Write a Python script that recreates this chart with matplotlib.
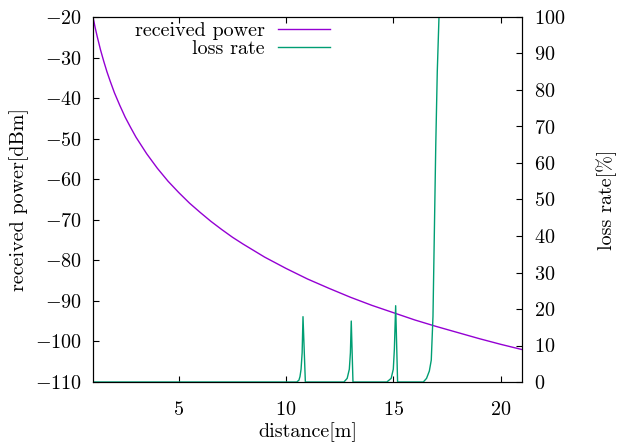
import matplotlib
matplotlib.use("Agg")
import matplotlib.pyplot as plt

plt.rcParams['font.family'] = ['cmr10', 'DejaVu Serif']
plt.rcParams['mathtext.fontset'] = 'cm'
plt.rcParams['axes.formatter.use_mathtext'] = True
plt.rcParams['font.size'] = 14.5

# received power curve
dist_power = [1, 1.1, 1.2, 1.35, 1.5, 1.65, 1.8, 2, 2.25, 2.5, 2.75, 3, 3.5,
              4, 4.5, 5, 5.5, 6, 6.5, 7, 7.5, 8, 8.5, 9, 9.5, 10,
              11, 12, 13, 14, 15, 16, 17, 18, 19, 20, 21]
power = [-20, -22.6, -24.9, -28.1, -30.9, -33.5, -35.8, -38.7, -41.8, -44.7,
         -47.2, -49.6, -53.7, -57.3, -60.5, -63.3, -65.9, -68.2, -70.4, -72.4,
         -74.3, -76.0, -77.6, -79.2, -80.6, -82.0, -84.6, -86.9, -89.1, -91.1,
         -92.9, -94.7, -96.3, -97.8, -99.3, -100.7, -102.0]

# loss rate (spikes and final rise)
dist_loss = [1, 10.5, 10.6, 10.65, 10.7, 10.75, 10.79, 10.9,
             12.7, 12.85, 12.95, 13.0, 13.04, 13.12,
             14.7, 14.9, 15.0, 15.05, 15.11, 15.2,
             16.4, 16.55, 16.68, 16.77, 16.85, 16.9, 16.98, 17.05, 17.13, 21]
loss = [0, 0, 0.5, 1.5, 3.5, 8, 17.9, 0,
        0, 1.0, 3.5, 8, 16.7, 0,
        0, 1.0, 3.5, 9, 20.9, 0,
        0, 1, 3, 6, 18, 36, 65, 85, 100, 100]

fig = plt.figure(figsize=(6.2, 4.44), dpi=100)
ax = fig.add_axes([93 / 620, 1 - 382 / 444, 429 / 620, 365 / 444])
ax2 = ax.twinx()

l1, = ax.plot(dist_power, power, color='#9400d3', lw=1.0, label='received power')
l2, = ax2.plot(dist_loss, loss, color='#009e73', lw=1.0, label='loss rate')

ax.set_xlim(1, 21)
ax.set_ylim(-110, -20)
ax2.set_ylim(0, 100)
ax.set_xticks([5, 10, 15, 20])
ax.set_yticks(range(-110, -19, 10))
ax2.set_yticks(range(0, 101, 10))

ax.tick_params(direction='in', length=4, width=0.8, top=True, right=False)
ax2.tick_params(direction='in', length=4, width=0.8)
ax.tick_params(axis='x', pad=14)
ax.tick_params(axis='y', pad=8)
ax2.tick_params(axis='y', pad=9)

ax.set_xlabel('distance[m]', labelpad=2)
ax.set_ylabel('received power[dBm]', labelpad=4)
ax2.set_ylabel('loss rate[%]', labelpad=22)

ax.legend(handles=[l1, l2], loc='upper right', bbox_to_anchor=(0.59, 1.03),
          frameon=False, markerfirst=False, handlelength=2.6,
          labelspacing=0.0, borderpad=0.3, handletextpad=0.65)

fig.savefig('out.png', dpi=100)
